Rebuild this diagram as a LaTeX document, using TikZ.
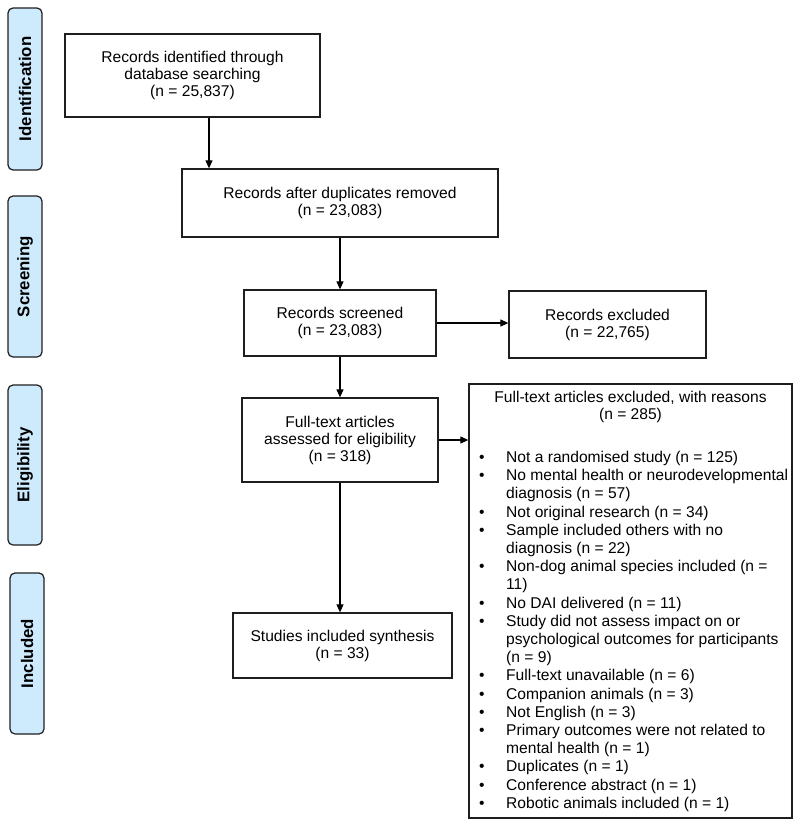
\documentclass[tikz,border=0pt]{standalone}
\usepackage{fontspec}
\setmainfont{Liberation Sans}
\usetikzlibrary{arrows.meta}
\definecolor{phasefill}{RGB}{206,234,253}
\definecolor{linegrey}{RGB}{30,30,30}
\begin{document}
\begin{tikzpicture}[x=1pt,y=-1pt,
  box/.style={draw=linegrey,line width=1.3pt,inner sep=0pt,align=center,
    font=\fontsize{15.6}{17}\selectfont},
  phase/.style={draw=linegrey,line width=1.2pt,fill=phasefill,rounded corners=5pt,
    rotate=90,inner sep=0pt,minimum height=34pt,
    font=\fontsize{16.8}{18}\selectfont\bfseries},
  arr/.style={line width=1.1pt,draw=black,-{Triangle[length=8pt,width=7pt]}},
  txt/.style={inner sep=0pt,font=\fontsize{15.6}{17}\selectfont},
  li/.style={inner sep=0pt,anchor=base west,font=\fontsize{15.6}{17}\selectfont}
]
\useasboundingbox (0,0) rectangle (800,827);
% phase labels
\node[phase,minimum width=162pt] (pid) at (25,89) {Identification};
\node[phase,minimum width=161pt] (psc) at (25,276.5) {Screening};
\node[phase,minimum width=160pt] (pel) at (25,465) {Eligibility};
\node[phase,minimum width=161pt] (pin) at (27,653.5) {Included};
% boxes
\node[box,minimum width=255pt,minimum height=83pt] (A) at (192.5,75.5)
  {Records identified through\\database searching\\(n = 25,837)};
\node[box,minimum width=316pt,minimum height=68pt] (B) at (340,203)
  {Records after duplicates removed\\(n = 23,083)};
\node[box,minimum width=192pt,minimum height=66pt] (C) at (340,323)
  {Records screened\\(n = 23,083)};
\node[box,minimum width=197pt,minimum height=67pt] (D) at (607.5,324.5)
  {Records excluded\\(n = 22,765)};
\node[box,minimum width=196pt,minimum height=84pt] (E) at (340,440)
  {Full-text articles\\assessed for eligibility\\(n = 318)};
\node[box,minimum width=219pt,minimum height=65pt] (F) at (342.5,645.5)
  {Studies included synthesis\\(n = 33)};
\node[box,minimum width=323pt,minimum height=434pt] (G) at (630.5,601) {};
\node[txt,align=center] (Gh) at (630.5,407)
  {Full-text articles excluded, with reasons\\(n = 285)};
% list lines (baseline 462.5 + 18.2 i)
\node[li] (b0)  at (479,462.5) {•};
\node[li] (t0)  at (506,462.5) {Not a randomised study (n = 125)};
\node[li] (b1)  at (479,480.7) {•};
\node[li] (t1)  at (506,480.7) {No mental health or neurodevelopmental};
\node[li] (t2)  at (506,498.9) {diagnosis (n = 57)};
\node[li] (b3)  at (479,517.1) {•};
\node[li] (t3)  at (506,517.1) {Not original research (n = 34)};
\node[li] (b4)  at (479,535.3) {•};
\node[li] (t4)  at (506,535.3) {Sample included others with no};
\node[li] (t5)  at (506,553.5) {diagnosis (n = 22)};
\node[li] (b6)  at (479,571.7) {•};
\node[li] (t6)  at (506,571.7) {Non-dog animal species included (n =};
\node[li] (t7)  at (506,589.9) {11)};
\node[li] (b8)  at (479,608.1) {•};
\node[li] (t8)  at (506,608.1) {No DAI delivered (n = 11)};
\node[li] (b9)  at (479,626.3) {•};
\node[li] (t9)  at (506,626.3) {Study did not assess impact on or};
\node[li] (t10) at (506,644.5) {psychological outcomes for participants};
\node[li] (t11) at (506,662.7) {(n = 9)};
\node[li] (b12) at (479,680.9) {•};
\node[li] (t12) at (506,680.9) {Full-text unavailable (n = 6)};
\node[li] (b13) at (479,699.1) {•};
\node[li] (t13) at (506,699.1) {Companion animals (n = 3)};
\node[li] (b14) at (479,717.3) {•};
\node[li] (t14) at (506,717.3) {Not English (n = 3)};
\node[li] (b15) at (479,735.5) {•};
\node[li] (t15) at (506,735.5) {Primary outcomes were not related to};
\node[li] (t16) at (506,753.7) {mental health (n = 1)};
\node[li] (b17) at (479,771.9) {•};
\node[li] (t17) at (506,771.9) {Duplicates (n = 1)};
\node[li] (b18) at (479,790.1) {•};
\node[li] (t18) at (506,790.1) {Conference abstract (n = 1)};
\node[li] (b19) at (479,808.3) {•};
\node[li] (t19) at (506,808.3) {Robotic animals included (n = 1)};
% connectors
\coordinate (ab) at (209,0);
\draw[arr] (A.south -| ab) -- (B.north -| ab);
\draw[arr] (B.south) -- (C.north);
\draw[arr] (C.east) -- (C.east -| D.west);
\draw[arr] (C.south) -- (E.north);
\draw[arr] (E.east) -- (E.east -| G.west);
\draw[arr] (E.south) -- (E.south |- F.north);
\end{tikzpicture}
\end{document}
